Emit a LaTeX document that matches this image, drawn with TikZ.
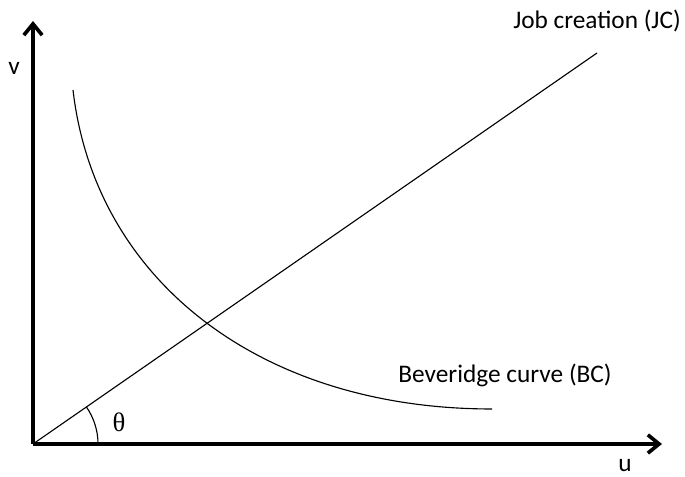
\documentclass[tikz,border=0pt]{standalone}
\usepackage{fontspec}
\setmainfont{Carlito}
\newfontfamily\thetafont{Liberation Serif}
\usetikzlibrary{arrows.meta}
\tikzset{
  axis/.style={line width=2.6pt,-{Straight Barb[length=8pt,width=13pt]}},
  curveline/.style={line width=0.8pt},
  lbl/.style={font=\fontsize{18}{21}\selectfont,inner sep=0pt}
}
\begin{document}
\begin{tikzpicture}[x=0.025cm,y=0.025cm]
  \useasboundingbox (0,0) rectangle (685,477);
  \coordinate (O) at (33,33);
  \coordinate (vtop) at (33,456);
  \coordinate (uend) at (662,33);
  \coordinate (jcend) at (597,424);
  \coordinate (bcstart) at (73,387);
  \coordinate (bcend) at (492,68);
  \coordinate (arcstart) at (98,33);
  % axes
  \draw[axis] (O) -- (vtop);
  \draw[axis] (O) -- (uend);
  \node[lbl] (v) at (14,409) {v};
  \node[lbl] (u) at (625,11) {u};
  % job creation line
  \draw[curveline] (O) -- (jcend);
  \node[lbl] (jc) at (597,456) {Job creation (JC)};
  % beveridge curve
  \draw[curveline] (bcstart) .. controls (95,197) and (260,68) .. (bcend);
  \node[lbl] (bc) at (505,102) {Beveridge curve (BC)};
  % angle
  \draw[curveline] (arcstart) arc[start angle=0,end angle=34.7,radius=1.625cm];
  \node[lbl,font=\thetafont\fontsize{19}{22}\selectfont] (theta) at (119,55) {θ};
\end{tikzpicture}
\end{document}
